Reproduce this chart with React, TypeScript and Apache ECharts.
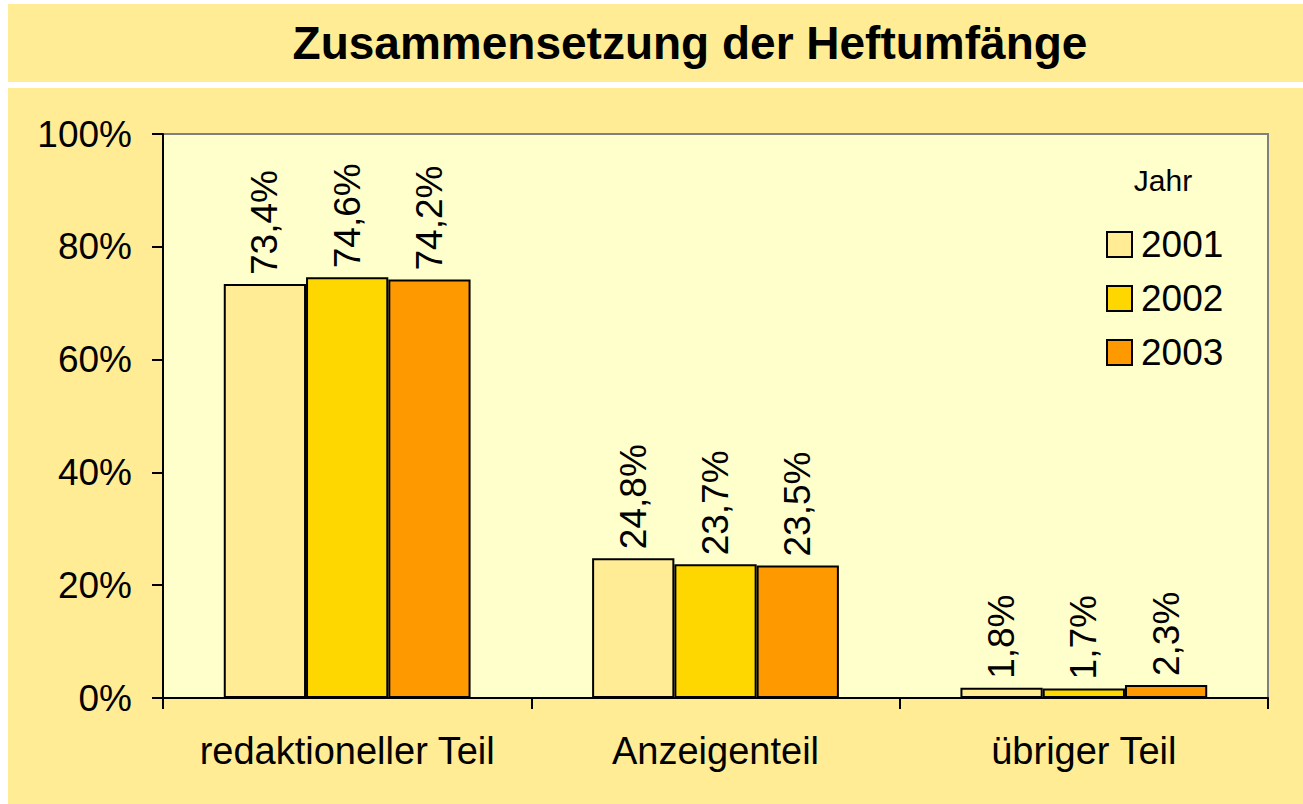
import React, { useEffect, useRef } from "react";
import * as echarts from "echarts";

const titleText = "Zusammensetzung der Heftumfänge";
const legendTitle = "Jahr";
const categories = ["redaktioneller Teil", "Anzeigenteil", "übriger Teil"];
const years = ["2001", "2002", "2003"];
const values2001 = [73.4, 24.8, 1.8];
const values2002 = [74.6, 23.7, 1.7];
const values2003 = [74.2, 23.5, 2.3];
const seriesValues = [values2001, values2002, values2003];
const colors = ["#FFEC94", "#FFD700", "#FF9900"];

const FONT = "'Liberation Sans', Arial, sans-serif";
const PANEL = "#FFEC94";

export default function App() {
  const ref = useRef<HTMLDivElement>(null);
  useEffect(() => {
    if (!ref.current) return;
    const chart = echarts.init(ref.current, undefined, { renderer: "svg" });
    const fmt = (v: number) => v.toFixed(1).replace(".", ",") + "%";
    chart.setOption({
      animation: false,
      backgroundColor: "#FFFFFF",
      textStyle: { fontFamily: FONT },
      graphic: [
        { type: "rect", z: -10, shape: { x: 8, y: 4, width: 1295, height: 78 }, style: { fill: PANEL } },
        { type: "rect", z: -10, shape: { x: 8, y: 88, width: 1295, height: 716 }, style: { fill: PANEL } },
        {
          type: "text",
          x: 690,
          y: 43,
          style: {
            text: titleText,
            fontFamily: FONT,
            fontSize: 46,
            fontWeight: "bold",
            fill: "#000",
            textAlign: "center",
            textVerticalAlign: "middle",
          },
        },
        {
          type: "text",
          x: 1163,
          y: 180,
          z: 10,
          style: {
            text: legendTitle,
            fontFamily: FONT,
            fontSize: 30,
            fill: "#000",
            textAlign: "center",
            textVerticalAlign: "middle",
          },
        },
      ],
      grid: {
        left: 163,
        right: 35,
        top: 134,
        bottom: 106,
        show: true,
        backgroundColor: "#FFFFCC",
        borderColor: "#808080",
        borderWidth: 2,
      },
      legend: {
        orient: "vertical",
        left: 1106,
        top: 226,
        padding: 0,
        itemWidth: 25,
        itemHeight: 25,
        itemGap: 17,
        icon: "rect",
        data: years,
        itemStyle: { borderColor: "#000", borderWidth: 2 },
        textStyle: { fontFamily: FONT, fontSize: 37, color: "#000", lineHeight: 37, padding: [0, 0, 0, 4] },
      },
      xAxis: {
        type: "category",
        data: categories,
        axisLine: { show: true, lineStyle: { color: "#000", width: 2 } },
        axisTick: { show: true, length: 11, lineStyle: { color: "#000", width: 2 } },
        axisLabel: { fontFamily: FONT, fontSize: 38, color: "#000", margin: 34, interval: 0 },
      },
      yAxis: {
        type: "value",
        min: 0,
        max: 100,
        interval: 20,
        axisLine: { show: true, lineStyle: { color: "#000", width: 2 } },
        axisTick: { show: true, length: 11, lineStyle: { color: "#000", width: 2 } },
        splitLine: { show: false },
        axisLabel: { fontFamily: FONT, fontSize: 37, color: "#000", margin: 31, formatter: "{value}%" },
      },
      series: years.map((y, i) => ({
        name: y,
        type: "bar",
        data: seriesValues[i],
        barGap: "0%",
        barCategoryGap: "33%",
        itemStyle: { color: colors[i], borderColor: "#000", borderWidth: 2 },
        label: {
          show: true,
          position: "top",
          rotate: 90,
          align: "left",
          verticalAlign: "middle",
          distance: 9,
          fontFamily: FONT,
          fontSize: 37,
          color: "#000",
          formatter: (p: any) => fmt(p.value),
        },
      })),
    });
    return () => chart.dispose();
  }, []);
  return (
    <div
      ref={ref}
      style={{ position: "fixed", left: 0, top: 0, width: 1303, height: 804 }}
    />
  );
}
